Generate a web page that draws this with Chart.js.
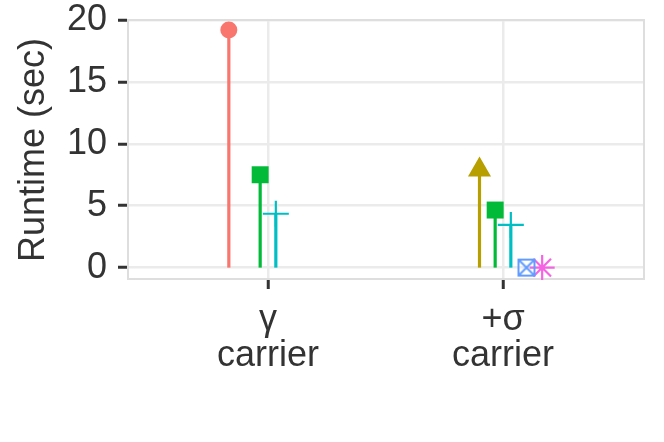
<!DOCTYPE html>
<html>
<head>
<meta charset="utf-8">
<script src="https://cdn.jsdelivr.net/npm/chart.js@4/dist/chart.umd.min.js"></script>
<style>
  html, body { margin: 0; padding: 0; background: #fff; }
</style>
</head>
<body>
<canvas id="chart" width="664" height="442"></canvas>
<script>
// categories on the x axis (multi-line labels)
const categories = [["γ", "carrier"], ["+σ", "carrier"]];

// one runtime value per category, null where the series has no point
const seriesNames = ["s1", "s2", "s3", "s4", "s5", "s6"];
const runtimeS1 = [19.2, null];
const runtimeS2 = [null, 7.9];
const runtimeS3 = [7.5, 4.65];
const runtimeS4 = [4.35, 3.45];
const runtimeS5 = [null, 0];
const runtimeS6 = [null, 0];

const yTicks = [0, 5, 10, 15, 20];
const yMinorTicks = [2.5, 7.5, 12.5, 17.5];

const seriesColors = ["#F8766D", "#B79F00", "#00BA38", "#00BFC4", "#619CFF", "#F564E3"];
const DODGE = 0.4;
const FONT = "'Liberation Sans', Arial, sans-serif";
const TEXT = "#333333";

// boxed x marker (ggplot shape 7)
function boxedX(color){
  const c = document.createElement("canvas");
  c.width = 20; c.height = 20;
  const g = c.getContext("2d");
  g.strokeStyle = color;
  g.lineWidth = 2;
  g.strokeRect(2, 2, 16, 16);
  g.beginPath();
  g.moveTo(2, 2); g.lineTo(18, 18);
  g.moveTo(18, 2); g.lineTo(2, 18);
  g.stroke();
  return c;
}

const allSeries = [runtimeS1, runtimeS2, runtimeS3, runtimeS4, runtimeS5, runtimeS6];
const shapes = [
  {pointStyle: "circle", radius: 8.5, filled: true},
  {pointStyle: "triangle", radius: 13.3, filled: true},
  {pointStyle: "rect", radius: 12, filled: true},
  {pointStyle: "cross", radius: 13, filled: false},
  {pointStyle: boxedX(seriesColors[4]), radius: 10, filled: false},
  {pointStyle: "star", radius: 12.5, filled: false},
];

const n = allSeries.length;
const datasets = allSeries.map((vals, i) => {
  const off = (i - (n - 1) / 2) * DODGE / n;
  const data = [];
  vals.forEach((v, j) => { if(v !== null) data.push({x: j + 1 + off, y: v}); });
  const s = shapes[i];
  return {
    label: seriesNames[i],
    data,
    pointStyle: s.pointStyle,
    pointRadius: s.radius,
    pointHoverRadius: s.radius,
    backgroundColor: s.filled ? seriesColors[i] : "rgba(0,0,0,0)",
    borderColor: seriesColors[i],
    pointBorderWidth: s.filled ? 0 : 2.2,
    stemColor: seriesColors[i],
  };
});

// panel border + stems from 0 up to each point
const stems = {
  id: "stems",
  beforeDatasetsDraw(chart){
    const {ctx, chartArea: a, scales} = chart;
    ctx.save();
    ctx.strokeStyle = "#DEDEDE";
    ctx.lineWidth = 2;
    ctx.strokeRect(a.left + 1, a.top, a.right - a.left - 1, a.bottom - a.top - 1);
    const y0 = scales.y.getPixelForValue(0);
    chart.data.datasets.forEach((ds, i) => {
      const meta = chart.getDatasetMeta(i);
      ctx.strokeStyle = ds.stemColor;
      ctx.lineWidth = 3.2;
      meta.data.forEach(pt => {
        ctx.beginPath();
        ctx.moveTo(pt.x, y0);
        ctx.lineTo(pt.x, pt.y);
        ctx.stroke();
      });
    });
    ctx.restore();
  }
};

new Chart(document.getElementById("chart"), {
  type: "scatter",
  data: {datasets},
  plugins: [stems],
  options: {
    responsive: false,
    animation: false,
    events: [],
    layout: {padding: {top: 20, right: 20, bottom: 0, left: 0}},
    plugins: {legend: {display: false}, tooltip: {enabled: false}},
    scales: {
      x: {
        type: "linear",
        min: 0.4,
        max: 2.6,
        afterBuildTicks: s => { s.ticks = categories.map((c, j) => ({value: j + 1})); },
        afterFit: s => { s.height = 162; s.paddingLeft = 0; s.paddingRight = 0; },
        ticks: {
          callback: v => categories[v - 1],
          font: {family: FONT, size: 36, lineHeight: 1.0},
          color: TEXT,
          padding: 13,
          maxRotation: 0,
        },
        grid: {
          color: "#EBEBEB",
          lineWidth: 2.5,
          tickColor: TEXT,
          tickLength: 9,
          tickWidth: 3,
        },
        border: {display: false},
      },
      y: {
        type: "linear",
        min: -1,
        max: 20,
        afterBuildTicks: s => {
          s.ticks = yTicks.concat(yMinorTicks).sort((a, b) => a - b).map(v => ({value: v}));
        },
        afterFit: s => { s.width = 127; s.paddingTop = 0; s.paddingBottom = 0; },
        ticks: {
          callback: v => yTicks.includes(v) ? String(v) : "",
          font: {family: FONT, size: 36, lineHeight: 1.1},
          color: TEXT,
          padding: 11,
        },
        grid: {
          color: c => yTicks.includes(c.tick.value) ? "#EBEBEB" : "#F2F2F2",
          lineWidth: c => yTicks.includes(c.tick.value) ? 2.5 : 1.2,
          tickColor: c => yTicks.includes(c.tick.value) ? TEXT : "rgba(0,0,0,0)",
          tickLength: 9,
          tickWidth: 3,
        },
        border: {display: false},
        title: {
          display: true,
          text: "Runtime (sec)",
          font: {family: FONT, size: 36},
          color: TEXT,
          padding: {top: 12, bottom: 0},
        },
      },
    },
  },
});
</script>
</body>
</html>
